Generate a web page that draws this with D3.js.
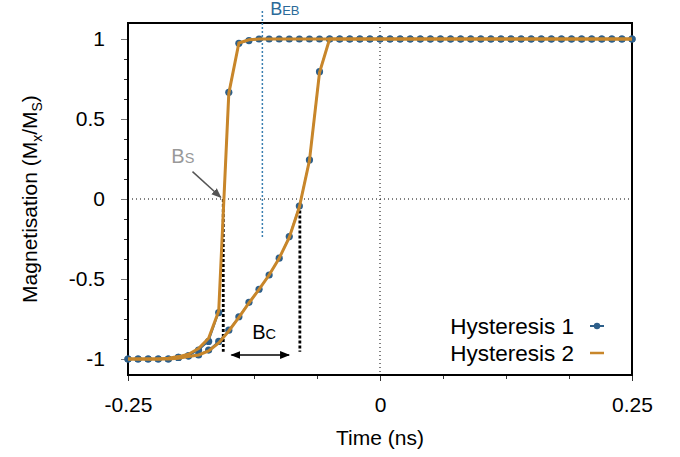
<!DOCTYPE html>
<html>
<head>
<meta charset="utf-8">
<script src="https://cdn.jsdelivr.net/npm/d3@7"></script>
<style>
  body { margin: 0; background: #fff; }
  svg { font-family: "Liberation Sans", Arial, Helvetica, sans-serif; }
</style>
</head>
<body>
<svg id="chart" width="680" height="457"></svg>
<script>
// time axis (ns), one sample every 0.01 ns
var times = d3.range(51).map(function(i) { return +(-0.25 + i * 0.01).toFixed(2); });

// Hysteresis 1 (blue points) - steep branch and slow branch
var hyst1Steep = [-1, -1, -1, -1, -1, -0.99, -0.98, -0.944, -0.89, -0.71,
  0.667, 0.973, 0.99, 1, 1, 1, 1, 1, 1, 1,
  1, 1, 1, 1, 1, 1, 1, 1, 1, 1, 1, 1, 1, 1, 1, 1, 1, 1, 1, 1,
  1, 1, 1, 1, 1, 1, 1, 1, 1, 1, 1];
var hyst1Slow = [-1, -1, -1, -1, -1, -0.99, -0.98, -0.975, -0.944, -0.89,
  -0.82, -0.736, -0.646, -0.564, -0.475, -0.37, -0.235, -0.044, 0.244, 0.796,
  1, 1, 1, 1, 1, 1, 1, 1, 1, 1, 1, 1, 1, 1, 1, 1, 1, 1, 1, 1,
  1, 1, 1, 1, 1, 1, 1, 1, 1, 1, 1];

// Hysteresis 2 (orange line)
var hyst2Steep = [-1, -1, -1, -1, -0.995, -0.985, -0.97, -0.935, -0.87, -0.7,
  0.66, 0.975, 0.995, 1, 1, 1, 1, 1, 1, 1,
  1, 1, 1, 1, 1, 1, 1, 1, 1, 1, 1, 1, 1, 1, 1, 1, 1, 1, 1, 1,
  1, 1, 1, 1, 1, 1, 1, 1, 1, 1, 1];
var hyst2Slow = [-1, -1, -1, -1, -1, -0.995, -0.985, -0.975, -0.95, -0.9,
  -0.825, -0.74, -0.65, -0.565, -0.475, -0.37, -0.24, -0.05, 0.24, 0.79,
  1, 1, 1, 1, 1, 1, 1, 1, 1, 1, 1, 1, 1, 1, 1, 1, 1, 1, 1, 1,
  1, 1, 1, 1, 1, 1, 1, 1, 1, 1, 1];

var xTicks = [-0.25, 0, 0.25];
var yTicks = [-1, -0.5, 0, 0.5, 1];
var seriesNames = ["Hysteresis 1", "Hysteresis 2"];

// annotation anchors in data units
var bS = -0.1555, bC = -0.0795, bEB = -0.1167;

var blue = "#2d5f8a", orange = "#c8862a";

var svg = d3.select("#chart");
var margin = { top: 23, right: 48, bottom: 82, left: 128 };
var width = 680, height = 457;

var x = d3.scaleLinear().domain([-0.25, 0.25]).range([margin.left, width - margin.right]);
var y = d3.scaleLinear().domain([-1.1, 1.1]).range([height - margin.bottom, margin.top]);

// reference lines at zero
svg.append("line")
  .attr("x1", x(-0.25)).attr("x2", x(0.25)).attr("y1", y(0)).attr("y2", y(0))
  .attr("stroke", "#000").attr("stroke-width", 1).attr("stroke-dasharray", "1,3");
svg.append("line")
  .attr("x1", x(0)).attr("x2", x(0)).attr("y1", y(1.1)).attr("y2", y(-1.1))
  .attr("stroke", "#000").attr("stroke-width", 1).attr("stroke-dasharray", "1,3");

// axes: minor ticks then major ticks with labels
var xMinor = d3.range(9).map(function(i) { return -0.25 + i * 0.0625; });
var yMinor = d3.range(17).map(function(i) { return -1 + i * 0.125; });

svg.append("g")
  .attr("transform", "translate(0," + y(-1.1) + ")")
  .call(d3.axisBottom(x).tickValues(xMinor).tickSize(4).tickFormat(""))
  .call(function(g) { g.select(".domain").remove(); g.selectAll("line").attr("stroke", "#333"); });
svg.append("g")
  .attr("transform", "translate(" + x(-0.25) + ",0)")
  .call(d3.axisLeft(y).tickValues(yMinor).tickSize(4).tickFormat(""))
  .call(function(g) { g.select(".domain").remove(); g.selectAll("line").attr("stroke", "#333"); });

svg.append("g")
  .attr("transform", "translate(0," + y(-1.1) + ")")
  .call(d3.axisBottom(x).tickValues(xTicks).tickSize(6).tickPadding(16)
    .tickFormat(function(d) { return String(d); }))
  .call(function(g) {
    g.select(".domain").remove();
    g.selectAll("line").attr("stroke", "#333");
    g.selectAll("text").attr("font-size", 21).attr("fill", "#000").attr("font-family", null);
  });
svg.append("g")
  .attr("transform", "translate(" + x(-0.25) + ",0)")
  .call(d3.axisLeft(y).tickValues(yTicks).tickSize(7).tickPadding(16)
    .tickFormat(function(d) { return String(d); }))
  .call(function(g) {
    g.select(".domain").remove();
    g.selectAll("line").attr("stroke", "#777");
    g.selectAll("text").attr("font-size", 21).attr("fill", "#000").attr("font-family", null);
  });

// frame
svg.append("rect")
  .attr("x", x(-0.25)).attr("y", y(1.1))
  .attr("width", x(0.25) - x(-0.25)).attr("height", y(-1.1) - y(1.1))
  .attr("fill", "none").attr("stroke", "#000").attr("stroke-width", 2);

// B_EB line
svg.append("line")
  .attr("x1", x(bEB)).attr("x2", x(bEB)).attr("y1", 11).attr("y2", y(-0.24))
  .attr("stroke", "#3a7fb0").attr("stroke-width", 1.5).attr("stroke-dasharray", "2,2");

// coercive field dashed lines
svg.append("line")
  .attr("x1", x(bS)).attr("x2", x(bS)).attr("y1", y(0)).attr("y2", y(-0.955))
  .attr("stroke", "#000").attr("stroke-width", 2.8).attr("stroke-dasharray", "3,2");
svg.append("line")
  .attr("x1", x(bC)).attr("x2", x(bC)).attr("y1", y(-0.04)).attr("y2", y(-0.955))
  .attr("stroke", "#000").attr("stroke-width", 2.8).attr("stroke-dasharray", "3,2");

// series
var line = d3.line()
  .x(function(d) { return x(d[0]); })
  .y(function(d) { return y(d[1]); });

function pairs(vals) { return times.map(function(t, i) { return [t, vals[i]]; }); }

[hyst1Steep, hyst1Slow].forEach(function(vals) {
  svg.append("path").datum(pairs(vals))
    .attr("d", line).attr("fill", "none").attr("stroke", blue).attr("stroke-width", 1.5);
  svg.append("g").selectAll("circle")
    .data(pairs(vals))
    .enter().append("circle")
    .attr("cx", function(d) { return x(d[0]); })
    .attr("cy", function(d) { return y(d[1]); })
    .attr("r", 3.6)
    .attr("fill", blue);
});
[hyst2Steep, hyst2Slow].forEach(function(vals) {
  svg.append("path").datum(pairs(vals))
    .attr("d", line).attr("fill", "none").attr("stroke", orange).attr("stroke-width", 3);
});

// arrowheads
var defs = svg.append("defs");
function marker(id, color, orient) {
  defs.append("marker").attr("id", id)
    .attr("viewBox", "0 0 10 10").attr("refX", 9).attr("refY", 5)
    .attr("markerWidth", 10).attr("markerHeight", 10)
    .attr("markerUnits", "userSpaceOnUse").attr("orient", orient)
    .append("path").attr("d", "M0,1 L10,5 L0,9 Z").attr("fill", color);
}
marker("arrGray", "#555", "auto");
marker("arrBlack", "#000", "auto-start-reverse");

// B_S arrow and label
svg.append("line")
  .attr("x1", x(-0.186)).attr("y1", y(0.171)).attr("x2", x(-0.158)).attr("y2", y(0.011))
  .attr("stroke", "#555").attr("stroke-width", 1.5).attr("marker-end", "url(#arrGray)");
var bsText = svg.append("text").attr("x", x(-0.207)).attr("y", y(0.225))
  .attr("fill", "#999").attr("font-size", 20);
bsText.append("tspan").text("B");
bsText.append("tspan").attr("font-size", 14.5).text("S");

// B_C arrow and label
svg.append("line")
  .attr("x1", x(-0.1474)).attr("x2", x(-0.0902)).attr("y1", y(-0.975)).attr("y2", y(-0.975))
  .attr("stroke", "#000").attr("stroke-width", 1.5)
  .attr("marker-start", "url(#arrBlack)").attr("marker-end", "url(#arrBlack)");
var bcText = svg.append("text").attr("x", x(-0.115)).attr("y", y(-0.875))
  .attr("text-anchor", "middle").attr("fill", "#000").attr("font-size", 20);
bcText.append("tspan").text("B");
bcText.append("tspan").attr("font-size", 14.5).text("C");

// B_EB label
var bebText = svg.append("text").attr("x", x(-0.109)).attr("y", 15)
  .attr("fill", "#2b6a99").attr("font-size", 18);
bebText.append("tspan").text("B");
bebText.append("tspan").attr("font-size", 13).text("EB");

// axis titles
svg.append("text")
  .attr("x", x(0)).attr("y", 445)
  .attr("text-anchor", "middle").attr("font-size", 21).text("Time (ns)");

var yTitle = svg.append("text")
  .attr("transform", "translate(37," + y(0) + ") rotate(-90)")
  .attr("text-anchor", "middle").attr("font-size", 21);
yTitle.append("tspan").text("Magnetisation (M");
yTitle.append("tspan").attr("font-size", 14).attr("dy", 5).text("x");
yTitle.append("tspan").attr("dy", -5).text("/M");
yTitle.append("tspan").attr("font-size", 14).attr("dy", 5).text("S");
yTitle.append("tspan").attr("dy", -5).text(")");

// legend
var legend = svg.append("g");
seriesNames.forEach(function(name, i) {
  var ly = 326 + i * 27;
  legend.append("text").attr("x", 574).attr("y", ly + 7.5)
    .attr("text-anchor", "end").attr("font-size", 22.5).text(name);
  legend.append("line")
    .attr("x1", 590).attr("x2", 604).attr("y1", ly).attr("y2", ly)
    .attr("stroke", i === 0 ? blue : orange).attr("stroke-width", i === 0 ? 2 : 2.5);
  if (i === 0) {
    legend.append("circle").attr("cx", 597).attr("cy", ly).attr("r", 3.2).attr("fill", blue);
  }
});
</script>
</body>
</html>
